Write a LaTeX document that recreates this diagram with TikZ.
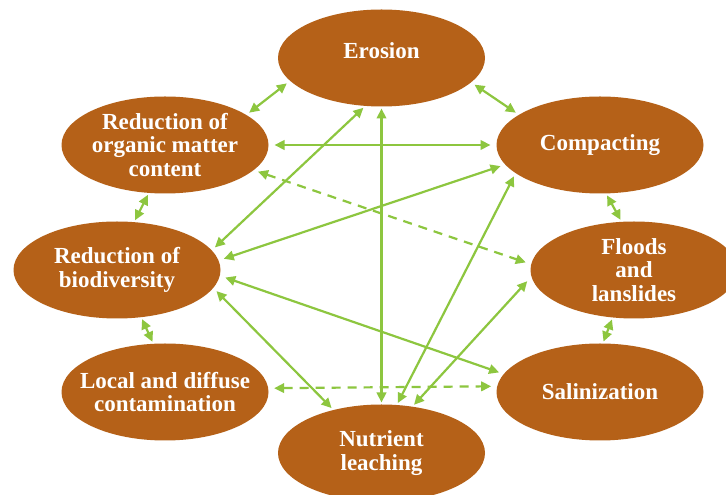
\documentclass[tikz,border=0pt]{standalone}
\usepackage{fontspec}
\setmainfont{Liberation Serif}
\usetikzlibrary{arrows.meta,shapes.geometric}
\definecolor{soilbrown}{RGB}{181,97,24}
\definecolor{linkgreen}{RGB}{141,198,63}
\tikzset{
  issue/.style={ellipse, fill=soilbrown, minimum width=207pt, minimum height=97pt,
    inner xsep=-30pt, inner ysep=-10pt, outer xsep=6pt, outer ysep=2pt,
    text=white, align=center,
    font=\fontsize{23}{23.5}\selectfont\bfseries},
  link/.style={draw=linkgreen, line width=2.2pt,
    {Triangle[length=10pt,width=9.5pt]}-{Triangle[length=10pt,width=9.5pt]}},
  weaklink/.style={link, dash pattern=on 9pt off 7pt},
}
\begin{document}
\begin{tikzpicture}[x=1pt,y=1pt]
  \clip (0,0) rectangle (726,495);
  \fill[white] (0,0) rectangle (726,495);

  % soil threats
  \node[issue, text depth=14pt] (ero) at (381.5,437) {Erosion};
  \node[issue] (org) at (165,350) {Reduction of\\organic matter\\content};
  \node[issue] (com) at (600,350) {Compacting};
  \node[issue] (bio) at (117,225) {Reduction of\\biodiversity};
  \node[issue] (flo) at (634,225) {Floods\\and\\lanslides};
  \node[issue] (loc) at (165,103) {Local and diffuse\\contamination};
  \node[issue] (sal) at (600,103) {Salinization};
  \node[issue] (nut) at (381.5,42) {Nutrient\\leaching};

  % interactions
  \draw[link] (org.21.7) -- (ero.195.5);
  \draw[link] (ero.344.3) -- (com.159);
  \draw[link] (org.0) -- (com.180);
  \draw[link] (org.251.2) -- (bio.70.2);
  \draw[weaklink] (org.344.6) -- (flo.176);
  \draw[link] (bio.13) -- (ero.250.1);
  \draw[link] (bio.6.2) -- (com.192.8);
  \draw[link] (bio.356.4) -- (sal.169.5);
  \draw[link] (bio.348.2) -- (nut.138.2);
  \draw[link] (bio.297) -- (loc.104.6);
  \draw[weaklink] (loc.2.6) -- (sal.177.4);
  \draw[link] (ero.south) -- (nut.north);
  \draw[link] (com.200.5) -- (nut.72.7);
  \draw[link] (flo.186.1) -- (nut.56.7);
  \draw[link] (com.278) -- (flo.105.6);
  \draw[link] (flo.246.7) -- (sal.86.6);
\end{tikzpicture}
\end{document}
